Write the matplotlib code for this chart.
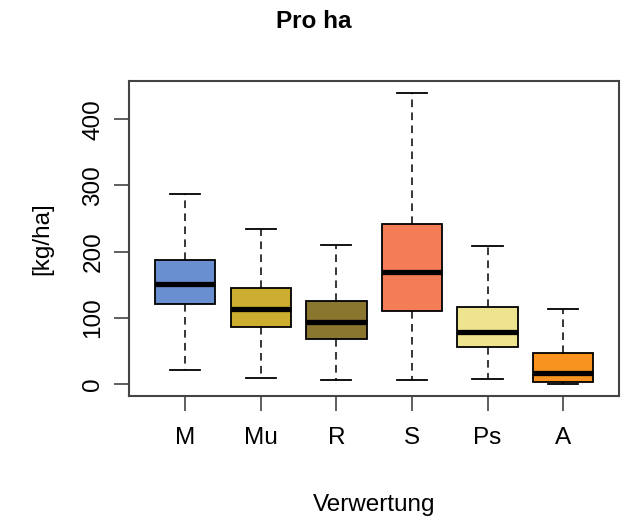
import matplotlib
matplotlib.use("Agg")
import matplotlib.pyplot as plt

plt.rcParams['font.family'] = ['Liberation Sans', 'DejaVu Sans']

# Werte (kg/ha)
labels = ["M", "Mu", "R", "S", "Ps", "A"]
whislo = [22, 10, 6, 6, 8, 0]
q1 = [121, 87, 68, 111, 56, 4]
med = [152, 114, 94, 169, 79, 17]
q3 = [187, 145, 125, 242, 117, 47]
whishi = [287, 234, 210, 440, 209, 113]
colors = ["#6A8FD0", "#CCAD2F", "#8A762F", "#F47D57", "#EEE38F", "#F7931E"]

stats = []
for i in range(len(labels)):
    stats.append(dict(label=labels[i], whislo=whislo[i], q1=q1[i], med=med[i],
                      q3=q3[i], whishi=whishi[i], fliers=[]))

fig = plt.figure(figsize=(6.26, 5.19), dpi=100)
ax = fig.add_axes([129.3 / 626, 123 / 519, 489.7 / 626, 315 / 519])

bp = ax.bxp(stats, positions=range(1, 7), widths=0.8, capwidths=0.4,
            patch_artist=True, showfliers=False,
            boxprops=dict(linewidth=1.3, edgecolor="black"),
            medianprops=dict(color="black", linewidth=3.8, solid_capstyle="butt"),
            whiskerprops=dict(color="black", linewidth=1.1, linestyle=(0, (5, 3.5))),
            capprops=dict(color="black", linewidth=1.3))
for patch, c in zip(bp["boxes"], colors):
    patch.set_facecolor(c)

ax.set_xlim(0.26, 6.74)
ax.set_ylim(-17.6, 457.6)
ax.set_yticks([0, 100, 200, 300, 400])
ax.set_yticklabels(["0", "100", "200", "300", "400"], rotation=90, va="center")
ax.set_xticks(range(1, 7))
ax.set_xticklabels(labels)
ax.tick_params(axis="both", labelsize=17.5, length=11, width=1.1, pad=11, color="#333333")
ax.tick_params(axis="y", pad=7)
for s in ax.spines.values():
    s.set_linewidth(1.5)
    s.set_color("#444444")

ax.set_xlabel("Verwertung", fontsize=17.5, labelpad=33)
ax.set_ylabel("[kg/ha]", fontsize=17.5, labelpad=21)
fig.text(314 / 626, 1 - 22 / 519, "Pro ha", fontsize=17.5, fontweight="bold",
         ha="center", va="center")

fig.savefig("out.png", dpi=100)
